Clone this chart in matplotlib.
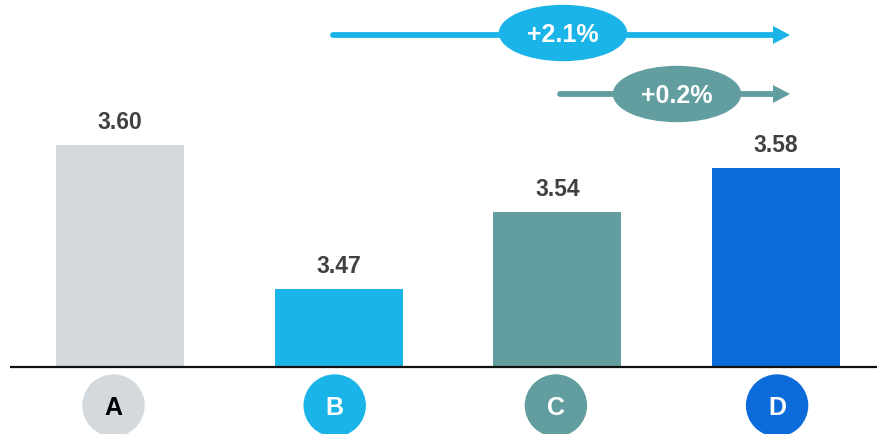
import matplotlib
matplotlib.use("Agg")
import matplotlib.pyplot as plt
from matplotlib.patches import Ellipse, Polygon

categories = ["A", "B", "C", "D"]
values = [3.60, 3.47, 3.54, 3.58]
colors = ["#d3d9dc", "#1ab4e8", "#629e9f", "#0c6bdb"]
letter_colors = ["#000000", "#ffffff", "#ffffff", "#ffffff"]
changes = ["+2.1%", "+0.2%"]
change_colors = ["#1ab4e8", "#629e9f"]

FONT = ["Liberation Sans", "DejaVu Sans"]
plt.rcParams["font.family"] = FONT

W, H = 878, 434
fig = plt.figure(figsize=(W / 100, H / 100), dpi=100)
ax = fig.add_axes([10 / W, 0, 1 - 10 / W, 1])
ax.set_axis_off()

px_x = 218.7          # pixels per category
px_y = 1108.0         # pixels per value unit
base = 3.40
x0_px = 120 - 10
ax.set_xlim(-x0_px / px_x, -x0_px / px_x + (W - 10) / px_x)
ax.set_ylim(base - 67 / px_y, base + 367 / px_y)

def py(ypx):
    return base + (367 - ypx) / px_y

def pxx(xpx):
    return (xpx - 120) / px_x

xs = list(range(len(categories)))
ax.bar(xs, [v - base for v in values], bottom=base, width=128 / px_x,
       color=colors, zorder=2)
ax.axhline(base, color="#111111", lw=1.6, zorder=3)

for x, v in zip(xs, values):
    ax.annotate(f"{v:.2f}", (x, v), xytext=(0, 18), textcoords="offset points",
                ha="center", va="center_baseline", fontsize=16.5, fontweight="bold",
                color="#404040")

# category circles
cy = py(405.5)
for i, (c, lc, lab) in enumerate(zip(colors, letter_colors, categories)):
    cx = pxx(113.5 + 221.2 * i)
    ax.add_patch(Ellipse((cx, cy), 61 / px_x, 61 / px_y, color=c,
                         zorder=4, clip_on=False))
    ax.text(cx, cy, lab, ha="center", va="center_baseline", fontsize=18,
            fontweight="bold", color=lc, zorder=5)

# change arrows
arrow_y_px = [35, 94]
start_px = [333, 560]
end_px = 790
ell_cx_px = [563, 677]
ell_cy_px = [33, 94]
for i, (lab, col) in enumerate(zip(changes, change_colors)):
    y = py(arrow_y_px[i])
    xa = pxx(start_px[i])
    xb = pxx(end_px)
    xh = pxx(end_px - 17)
    ax.plot([xa, xh + 1 / px_x], [y, y], color=col, lw=4.2,
            solid_capstyle="round", zorder=4)
    ax.add_patch(Polygon([(xb, y), (xh, y + 9 / px_y), (xh, y - 9 / px_y)],
                         closed=True, color=col, lw=0, zorder=4))
    ex = pxx(ell_cx_px[i])
    ey = py(ell_cy_px[i])
    ax.add_patch(Ellipse((ex, ey), 127 / px_x, 55 / px_y, color=col, zorder=5))
    ax.text(ex, ey, lab, ha="center", va="center_baseline", fontsize=18,
            fontweight="bold", color="white", zorder=6)

fig.savefig("out.png", dpi=100)
